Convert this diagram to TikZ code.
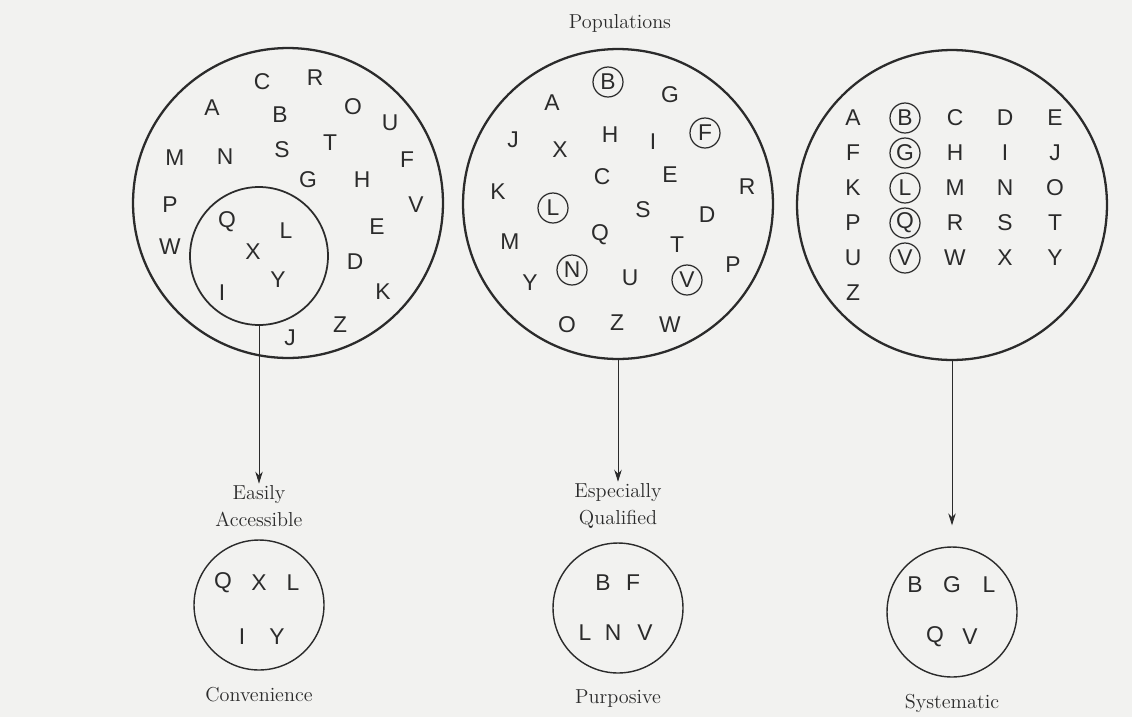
\documentclass[tikz,border=0pt]{standalone}
\usepackage{fontspec}
\setsansfont{Liberation Sans}
\usetikzlibrary{arrows.meta,positioning}
\definecolor{ink}{HTML}{2B2B2B}
\definecolor{paper}{HTML}{F2F2F0}
\tikzset{
	big/.style ={circle, draw=ink, line width=1.3pt, minimum size=6.2cm, inner sep=0pt},
	inner/.style ={circle, draw=ink, line width=1pt, minimum size=2.76cm, inner sep=0pt},
	small/.style ={circle, draw=ink, line width=0.8pt, minimum size=2.6cm, inner sep=0pt},
	ring/.style ={circle, draw=ink, line width=0.7pt, minimum size=0.6cm, inner sep=0pt},
	ltr/.style = {text=ink, font=\sffamily\fontsize{13}{13}\selectfont, inner sep=0pt},
	lab/.style = {text=ink, font=\fontsize{11.5}{15}\selectfont, align=center, inner sep=1pt},
	pick/.style={draw=ink, line width=0.5pt, -{Stealth[length=2.4mm,width=1.5mm]}}
}

\begin{document}
\begin{tikzpicture}[x=0.02cm, y=-0.02cm]

    \useasboundingbox (0,0) rectangle (1132,717);
    \fill[paper] (0,0) rectangle (1132,717);

    \node[lab] (pop) at (620,23) {Populations};

    \node[big] (popA) at (288,203) {};
    \node[inner] (subA) at (259,256) {};
    \node[big] (popB) at (618,204) {};
    \node[big] (popC) at (952,205) {};

    \foreach \n/\px/\py in {C/262/82, R/315/78, A/212/108, B/280/115, O/353/107,
        U/390/123, T/330/143, M/175/158, N/225/157, S/282/150, F/407/160,
        G/308/180, H/362/180, P/170/205, V/416/205, Q/227/222, L/286/231,
        E/377/227, W/170/247, X/253/252, D/355/262, Y/278/280, K/383/292,
        I/222/293, Z/340/325, J/290/338}
        \node[ltr] (a\n) at (\px,\py) {\n};

    \foreach \n/\px/\py in {G/670/95, A/552/103, J/513/140, H/610/135, I/653/142,
        X/560/150, C/602/177, E/670/175, K/498/192, R/747/187, S/643/210,
        D/707/215, M/510/242, Q/600/235, T/677/245, U/630/278, P/733/265,
        Y/530/283, O/567/325, Z/617/323, W/670/325}
        \node[ltr] (b\n) at (\px,\py) {\n};
    \foreach \n/\px/\py in {B/608/82, F/705/133, L/553/208, N/572/270, V/687/280}
        \node[ltr, ring] (b\n) at (\px,\py) {\n};

    \foreach \n/\px/\py in {A/853/118, C/955/118, D/1005/118, E/1055/118,
        F/853/153, H/955/153, I/1005/153, J/1055/153,
        K/853/188, M/955/188, N/1005/188, O/1055/188,
        P/853/223, R/955/223, S/1005/223, T/1055/223,
        U/853/258, W/955/258, X/1005/258, Y/1055/258, Z/853/293}
        \node[ltr] (c\n) at (\px,\py) {\n};
    \foreach \n/\py in {B/118, G/153, L/188, Q/223, V/258}
        \node[ltr, ring] (c\n) at (905,\py) {\n};

    \node[lab] (easy) at (259,506) {Easily\\Accessible};
    \node[small] (conv) at (259,605) {};
    \node[lab] (qual) at (618,506) {Especially\\Qualified};
    \node[small] (purp) at (618,608) {};
    \node[small] (syst) at (952,612) {};

    \node[lab] [below =0.28cm of conv] {Convenience};
    \node[lab] [below =0.28cm of purp] {Purposive};
    \node[lab] [below =0.28cm of syst] {Systematic};

    \foreach \n/\px/\py in {Q/223/583, X/259/583, L/293/583, I/242/637, Y/277/637}
        \node[ltr] (d\n) at (\px,\py) {\n};
    \foreach \n/\px/\py in {B/603/583, F/633/583, L/585/633, N/613/633, V/645/633}
        \node[ltr] (e\n) at (\px,\py) {\n};
    \foreach \n/\px/\py in {B/915/585, G/952/585, L/989/585, Q/935/637, V/970/637}
        \node[ltr] (f\n) at (\px,\py) {\n};

    \draw[pick] (subA.south) -- (easy.north);
    \draw[pick] (popB.south) -- (qual.north);
    \draw[pick, shorten >=0.42cm] (popC.south) -- (syst.north);

\end{tikzpicture}
\end{document}
